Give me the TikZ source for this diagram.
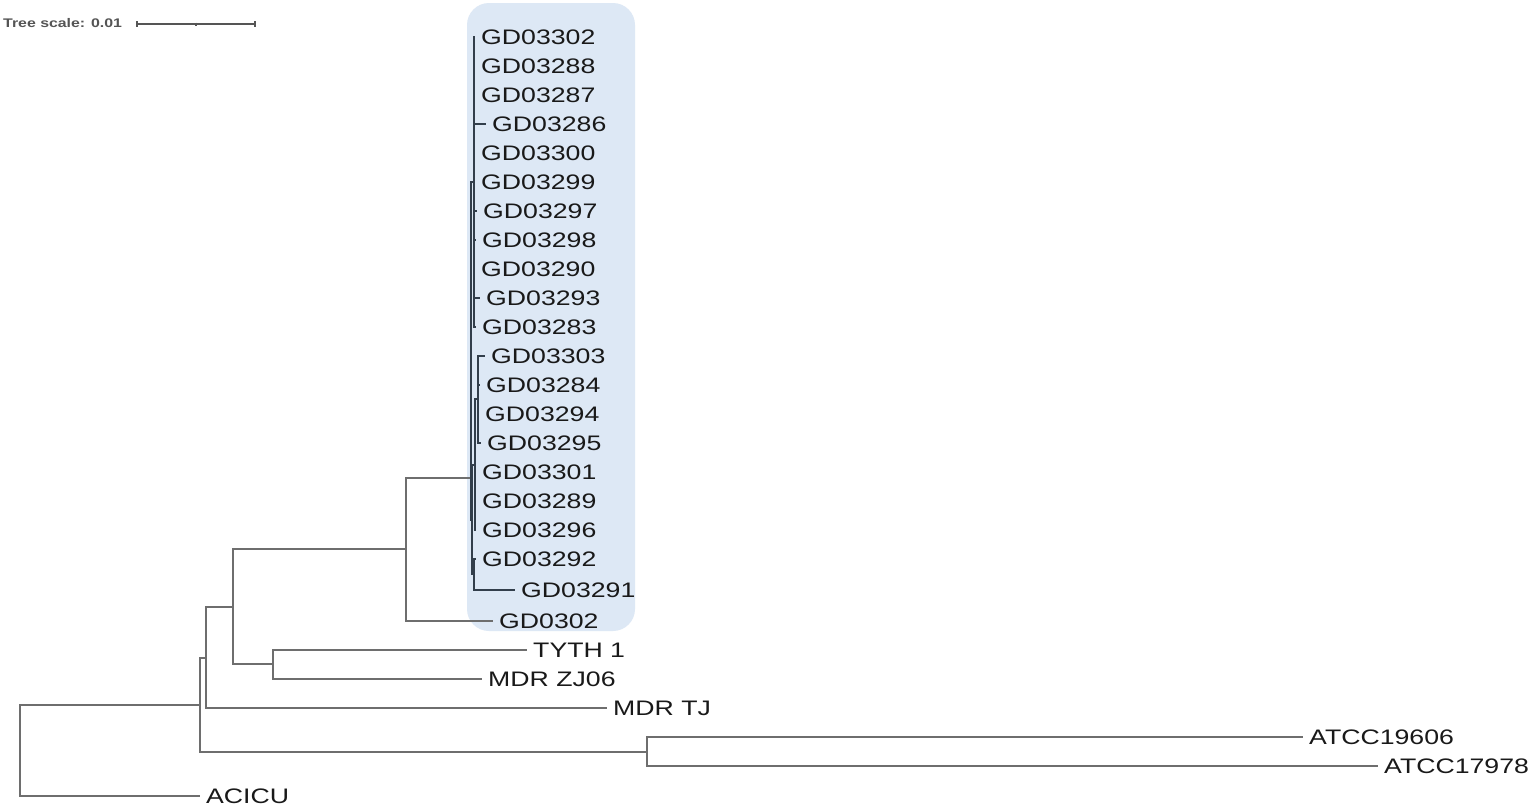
\documentclass[tikz,border=0pt]{standalone}
\usepackage{fontspec}
\newfontfamily\labfont[FakeStretch=1.27]{Liberation Sans}
\newfontfamily\scalefont[FakeStretch=1.27]{Liberation Sans Bold}
\definecolor{boxblue}{RGB}{221,232,245}
\definecolor{brgray}{RGB}{110,110,110}
\definecolor{cbrcol}{RGB}{50,62,75}
\definecolor{labcol}{RGB}{25,25,25}
\definecolor{scalegray}{RGB}{85,85,85}
\begin{document}
\begin{tikzpicture}[x=1pt,y=-1pt,
  br/.style={draw=brgray,line width=1.4pt},
  cbr/.style={draw=cbrcol,line width=1.3pt},
  lab/.style={anchor=west,inner sep=0pt,text=labcol,font=\labfont\fontsize{21}{25}\selectfont},
  sclab/.style={anchor=west,inner sep=0pt,text=scalegray,font=\scalefont\fontsize{12.5}{15}\selectfont}]
\useasboundingbox (0,0) rectangle (1535,806);
\fill[white] (0,0) rectangle (1535,806);
% clade highlight
\fill[boxblue,rounded corners=22pt] (467,3) rectangle (635,631);
% tree scale
\node[sclab] (scl) at (3,23.5) {Tree scale: 0.01};
\coordinate (sba) at (137,24);
\coordinate (sbb) at (255,24);
\coordinate (sbm) at (196,24);
\draw[scalegray,line width=1.2pt] (sba) -- (sbb);
\draw[scalegray,line width=1.2pt] ([yshift=3pt]sba) -- ([yshift=-3pt]sba);
\draw[scalegray,line width=1.2pt] ([yshift=3pt]sbb) -- ([yshift=-3pt]sbb);
\draw[scalegray,line width=1.2pt] ([yshift=1.5pt]sbm) -- ([yshift=-1.5pt]sbm);
% internal nodes
\coordinate (root) at (20,750);
\coordinate (n1) at (200,705);
\coordinate (n2) at (206,658);
\coordinate (natcc) at (647,752);
\coordinate (n3) at (233,607);
\coordinate (n4) at (273,664);
\coordinate (n5) at (406,549);
\coordinate (R) at (471,478);
\coordinate (T) at (474,182);
\coordinate (U) at (472,520);
\coordinate (Q) at (475,465);
\coordinate (V) at (474,574);
\coordinate (P) at (478,399);
% outer leaves
\foreach \n/\t/\e/\y/\p in {acicu/ACICU/200/796/root, a19606/ATCC19606/1303/737/natcc, a17978/ATCC17978/1378/766/natcc, mdrtj/MDR TJ/607/708/n2, tyth/TYTH 1/527/650/n4, zj06/MDR ZJ06/482/679/n4, gd0302/GD0302/493/621/n5}{
  \coordinate (e\n) at (\e,\y);
  \node[lab] (t\n) at ([xshift=6pt]e\n) {\t};
  \draw[br] (\p) |- (e\n);
}
% outer internal branches
\draw[br] (root) |- (n1);
\draw[br] (n1) |- (n2);
\draw[br] (n1) |- (natcc);
\draw[br] (n2) |- (n3);
\draw[br] (n3) |- (n4);
\draw[br] (n3) |- (n5);
\draw[br] (n5) |- (R);
% clade internal branches
\draw[cbr] (R) |- (T);
\draw[cbr] (R) |- (U);
\draw[cbr] (U) |- (Q);
\draw[cbr] (U) |- (V);
\draw[cbr] (Q) |- (P);
% clade leaves
\foreach \n/\e/\y/\p in {03302/475/37/T, 03288/475/66/T, 03287/475/95/T, 03286/486/124/T, 03300/475/153/T, 03299/475/182/T, 03297/477/211/T, 03298/476/240/T, 03290/475/269/T, 03293/480/298/T, 03283/476/327/T, 03303/485/356/P, 03284/480/385/P, 03294/479/414/P, 03295/481/443/P, 03301/476/472/Q, 03289/476/501/Q, 03296/476/530/Q, 03292/476/559/V, 03291/515/590/V}{
  \coordinate (e\n) at (\e,\y);
  \node[lab] (t\n) at ([xshift=6pt]e\n) {GD\n};
  \draw[cbr] (\p) |- (e\n);
}
\end{tikzpicture}
\end{document}
